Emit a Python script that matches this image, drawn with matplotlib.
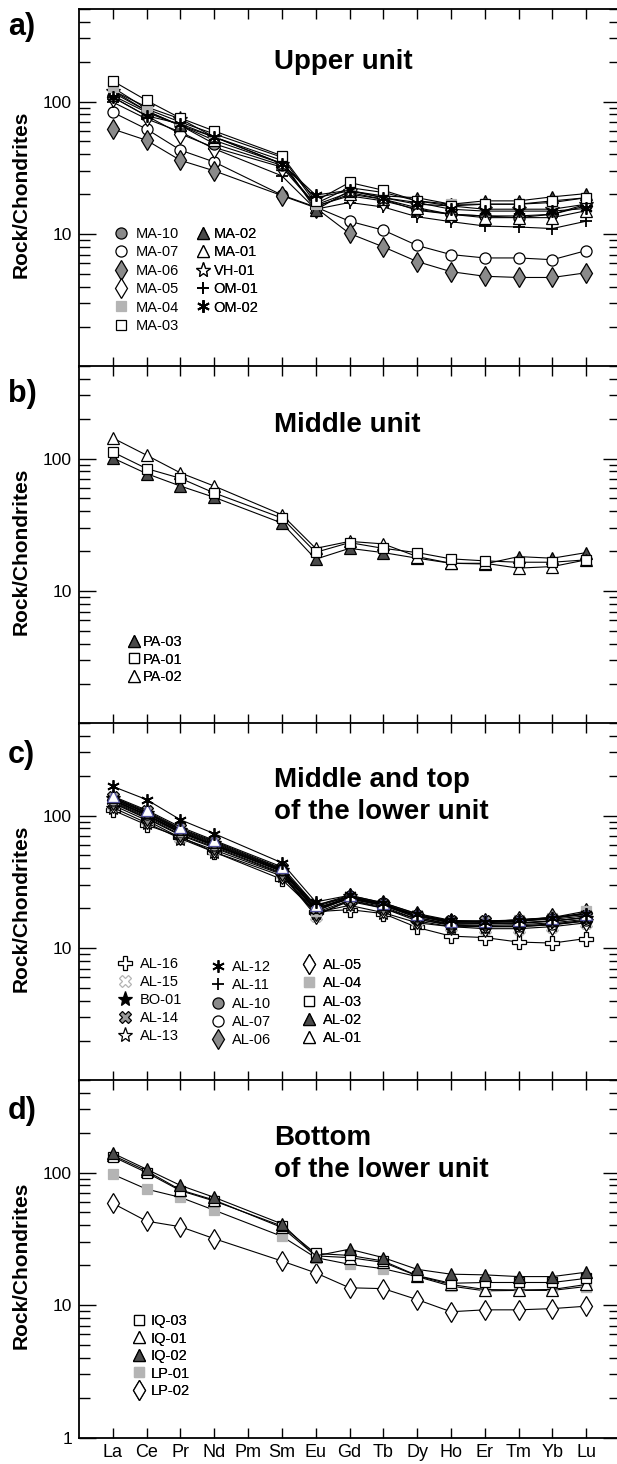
import numpy as np
import matplotlib
matplotlib.use("Agg")
import matplotlib.pyplot as plt
from matplotlib.lines import Line2D

plt.rcParams['font.family'] = ['Liberation Sans', 'DejaVu Sans']

# ---------------- data ----------------
elements = ['La', 'Ce', 'Pr', 'Nd', 'Pm', 'Sm', 'Eu', 'Gd', 'Tb', 'Dy', 'Ho', 'Er', 'Tm', 'Yb', 'Lu']

# panel a - Upper unit
ma10 = [111, 83, 66, 48, 33, 16.6, 20.6, 18.3, 15.1, 14.1, 13.7, 13.3, 14.1, 16.8]
ma07 = [83, 62, 43, 35, 19.7, 16.0, 12.5, 10.7, 8.2, 7.0, 6.6, 6.6, 6.4, 7.5]
ma06 = [62, 51, 36, 30, 19.5, 15.8, 10.1, 8.0, 6.2, 5.2, 4.8, 4.7, 4.7, 5.1]
ma05 = [108, 78, 57, 45, 32, 16.3, 19.4, 17.8, 15.4, 14.1, 13.7, 13.7, 14.1, 16.3]
ma04 = [128, 88, 70, 57, 38, 17.0, 22.4, 20.6, 17.8, 16.8, 16.8, 16.8, 17.3, 18.8]
ma03 = [143, 102, 75, 60, 39, 17.8, 24.5, 21.4, 17.8, 16.3, 16.8, 16.8, 17.8, 18.8]
ma02 = [121, 85, 66, 54, 36, 15.2, 21.2, 19.4, 18.8, 16.8, 17.8, 17.8, 19.1, 20.2]
ma01 = [117, 85, 66, 51, 34, 16.0, 20.0, 18.3, 15.8, 14.1, 13.3, 13.3, 13.3, 15.0]
vh01 = [121, 91, 74, 54, 34, 18.8, 21.2, 18.8, 16.8, 16.3, 15.4, 15.4, 15.4, 16.8]
om01 = [99, 74, 59, 44, 27.5, 15.4, 17.3, 16.0, 13.5, 12.4, 11.5, 11.3, 11.0, 12.5]
om02 = [108, 78, 68, 54, 34, 19.7, 21.4, 18.8, 17.3, 15.4, 14.9, 14.9, 14.9, 15.6]

# panel b - Middle unit
pa03 = [101, 77, 62, 51, 32.6, 17.4, 21.0, 19.5, 17.7, 16.2, 16.0, 18.2, 17.7, 19.5]
pa01 = [112, 84, 71, 55, 35.6, 19.6, 23.2, 21.0, 19.5, 17.5, 16.9, 16.5, 16.5, 17.2]
pa02 = [143, 106, 78, 62, 37.7, 21.0, 23.7, 22.7, 18.2, 16.2, 16.2, 14.9, 15.3, 17.2]

# panel c - Middle and top of the lower unit
al16 = [110, 85, 69, 53, 33, 18.8, 19.5, 18.2, 14.3, 12.3, 12.0, 11.1, 10.9, 11.8]
al15 = [120, 92, 68, 55, 36, 17.5, 23.0, 20.0, 16.0, 14.5, 14.0, 14.0, 14.5, 15.5]
bo01 = [135, 105, 78, 62, 39, 21.0, 24.5, 21.5, 17.5, 15.5, 15.5, 15.5, 16.0, 17.0]
al14 = [138, 108, 80, 64, 40, 20.0, 24.0, 21.5, 17.5, 16.0, 16.0, 16.0, 16.5, 17.5]
al13 = [115, 88, 67, 53, 35, 18.5, 21.0, 18.5, 15.5, 14.5, 14.5, 14.5, 15.0, 16.0]
al12 = [166, 132, 93, 73, 44, 22.3, 25.0, 21.9, 18.2, 16.2, 15.7, 16.4, 17.0, 18.2]
al11 = [128, 98, 74, 59, 38, 20.0, 23.5, 21.0, 17.0, 15.0, 14.8, 15.0, 15.5, 16.5]
al10 = [132, 102, 76, 60, 38.5, 19.5, 24.5, 21.5, 17.5, 15.5, 15.3, 15.5, 16.0, 17.0]
al07 = [126, 96, 72, 58, 37, 18.5, 23.0, 20.5, 16.5, 14.8, 14.5, 14.7, 15.2, 16.2]
al06 = [130, 100, 75, 60, 38, 19.0, 24.0, 21.0, 17.5, 15.5, 15.5, 16.0, 16.8, 18.5]
al05 = [124, 95, 71, 57, 36.5, 18.0, 22.5, 20.0, 16.5, 15.0, 14.5, 14.5, 15.0, 16.0]
al04 = [134, 104, 77, 61, 39, 19.0, 24.0, 21.0, 17.5, 15.8, 16.0, 16.2, 17.0, 19.0]
al03 = [131, 101, 75, 60, 38, 19.5, 23.5, 21.0, 17.0, 15.2, 15.2, 15.3, 16.0, 17.0]
al02 = [137, 106, 79, 63, 39.5, 20.5, 24.5, 21.5, 17.8, 16.0, 15.8, 16.0, 16.8, 18.0]
al01 = [140, 110, 82, 65, 41, 21.0, 25.0, 22.0, 18.0, 16.0, 16.0, 16.3, 17.0, 18.0]

# panel d - Bottom of the lower unit
iq03 = [132, 100, 73, 61, 39.5, 24.5, 23.7, 21.5, 16.7, 14.6, 14.8, 14.8, 14.8, 15.9]
iq01 = [135, 103, 74, 62, 38.5, 23.5, 22.8, 21.0, 16.6, 14.3, 13.1, 13.0, 13.1, 14.3]
iq02 = [140, 106, 80, 65, 41, 23.5, 26.4, 22.8, 18.6, 17.1, 16.9, 16.4, 16.4, 17.7]
lp01 = [97, 75, 65, 52, 33, 22.8, 20.3, 18.8, 16.4, 13.9, 12.8, 12.9, 12.9, 13.8]
lp02 = [58.6, 43, 39, 31.7, 21.5, 17.5, 13.5, 13.3, 11.0, 8.9, 9.2, 9.2, 9.4, 9.8]

panel_titles = ['Upper unit', 'Middle unit', 'Middle and top\nof the lower unit',
                'Bottom\nof the lower unit']
panel_letters = ['a)', 'b)', 'c)', 'd)']
ylabel = 'Rock/Chondrites'

# ---------------- styles ----------------
GREY = '#8a8a8a'
LGREY = '#b4b4b4'
DGREY = '#4a4a4a'
ASTER = (6, 2, 0)

def st(marker, fc, ec='black', ms=8, mew=0.9):
    return dict(marker=marker, mfc=fc, mec=ec, ms=ms, mew=mew)

styles = {
    'MA-10': st('o', GREY, ms=8), 'MA-07': st('o', 'white', ms=8),
    'MA-06': st('d', GREY, ms=10), 'MA-05': st('d', 'white', ms=10),
    'MA-04': st('s', LGREY, LGREY, ms=7), 'MA-03': st('s', 'white', ms=7),
    'MA-02': st('^', DGREY, ms=8), 'MA-01': st('^', 'white', ms=8),
    'VH-01': st('*', 'white', ms=11), 'OM-01': st('+', 'black', ms=9, mew=1.3),
    'OM-02': st(ASTER, 'black', ms=9, mew=1.3),
    'PA-03': st('^', DGREY, ms=8), 'PA-01': st('s', 'white', ms=7),
    'PA-02': st('^', 'white', ms=8),
    'AL-16': st('P', 'white', ms=10), 'AL-15': st('X', 'white', LGREY, ms=9),
    'BO-01': st('*', 'black', ms=11), 'AL-14': st('X', '#9a9a9a', ms=9),
    'AL-13': st('*', 'white', ms=11), 'AL-12': st(ASTER, 'black', ms=9, mew=1.3),
    'AL-11': st('+', 'black', ms=9, mew=1.3), 'AL-10': st('o', GREY, ms=8),
    'AL-07': st('o', 'white', ms=8), 'AL-06': st('d', GREY, ms=10),
    'AL-05': st('d', 'white', ms=10), 'AL-04': st('s', LGREY, LGREY, ms=7),
    'AL-03': st('s', 'white', ms=7), 'AL-02': st('^', DGREY, ms=8),
    'AL-01': st('^', 'white', '#50509a', ms=8),
    'IQ-03': st('s', 'white', ms=7), 'IQ-01': st('^', 'white', ms=8),
    'IQ-02': st('^', DGREY, ms=8), 'LP-01': st('s', LGREY, LGREY, ms=7),
    'LP-02': st('d', 'white', ms=10),
}

panels = [
    [('MA-07', ma07), ('MA-06', ma06), ('OM-01', om01), ('MA-05', ma05), ('MA-10', ma10),
     ('MA-01', ma01), ('MA-02', ma02), ('VH-01', vh01), ('MA-04', ma04), ('MA-03', ma03),
     ('OM-02', om02)],
    [('PA-03', pa03), ('PA-02', pa02), ('PA-01', pa01)],
    [('AL-16', al16), ('AL-15', al15), ('AL-13', al13), ('AL-05', al05), ('AL-07', al07),
     ('AL-11', al11), ('AL-03', al03), ('AL-06', al06), ('AL-10', al10), ('AL-04', al04),
     ('BO-01', bo01), ('AL-02', al02), ('AL-14', al14), ('AL-01', al01), ('AL-12', al12)],
    [('LP-02', lp02), ('LP-01', lp01), ('IQ-01', iq01), ('IQ-03', iq03), ('IQ-02', iq02)],
]

# legend columns: (names, x0 px, top px, handletextpad, labelspacing)
legend_cols = [
    [(['MA-10', 'MA-07', 'MA-06', 'MA-05', 'MA-04', 'MA-03'], 114, 227, 0.5, 0.3),
     (['MA-02', 'MA-01', 'VH-01', 'OM-01', 'OM-02'], 196, 227, 0.2, 0.3)],
    [(['PA-03', 'PA-01', 'PA-02'], 127, 635, 0.1, 0.24)],
    [(['AL-16', 'AL-15', 'BO-01', 'AL-14', 'AL-13'], 118, 957, 0.5, 0.28),
     (['AL-12', 'AL-11', 'AL-10', 'AL-07', 'AL-06'], 211, 960, 0.45, 0.3),
     (['AL-05', 'AL-04', 'AL-03', 'AL-02', 'AL-01'], 302, 958, 0.45, 0.3)],
    [(['IQ-03', 'IQ-01', 'IQ-02', 'LP-01', 'LP-02'], 132, 1314, 0.3, 0.24)],
]

# ---------------- figure ----------------
W, H = 617, 1464
fig = plt.figure(figsize=(W / 100, H / 100), dpi=100)

def fx(px):
    return px / W

def fy(py):
    return 1 - py / H

x_all = np.arange(1, len(elements) + 1)
x_meas = np.array([i + 1 for i, e in enumerate(elements) if e != 'Pm'])

panel_tops = [9, 366, 723, 1080]
panel_h = 357.5
ax_left, ax_right = 79, 620
title_y = [62, 425, 796, 1154]
letter_y = [27, 394, 755, 1111]

for k in range(4):
    top = panel_tops[k]
    ax = fig.add_axes([fx(ax_left), fy(top + panel_h), fx(ax_right - ax_left), panel_h / H])
    ax.set_yscale('log')
    ax.set_ylim(1, 500)
    ax.set_xlim(0, len(elements) + 1)
    for name, vals in panels[k]:
        s = styles[name]
        ax.plot(x_meas, vals, color='black', lw=0.8, marker=s['marker'], mfc=s['mfc'],
                mec=s['mec'], ms=s['ms'], mew=s['mew'], zorder=3, clip_on=False)
    for sp in ax.spines.values():
        sp.set_linewidth(1.3)
    ax.set_xticks(x_all)
    if k == 3:
        ax.set_xticklabels(elements, fontsize=13)
        ax.set_yticks([1, 10, 100])
        ax.set_yticklabels(['1', '10', '100'])
    else:
        ax.set_xticklabels([])
        ax.set_yticks([10, 100])
        ax.set_yticklabels(['10', '100'])
    ax.yaxis.set_minor_locator(matplotlib.ticker.LogLocator(base=10, subs=np.arange(2, 10)))
    ax.yaxis.set_minor_formatter(matplotlib.ticker.NullFormatter())
    ax.tick_params(axis='x', which='major', direction='in', top=True, bottom=True,
                   length=7.2, width=1.0, pad=5)
    ax.tick_params(axis='y', which='major', direction='in', left=True, right=True,
                   length=12, width=1.0, labelsize=12.5, pad=5)
    ax.tick_params(axis='y', which='minor', direction='in', left=True, right=True,
                   length=8, width=1.0)

    fig.text(fx(274), fy(title_y[k]), panel_titles[k], fontsize=20, fontweight='bold',
             ha='left', va='center', linespacing=1.32)
    fig.text(fx(8), fy(letter_y[k]), panel_letters[k], fontsize=22, fontweight='bold',
             ha='left', va='center')
    fig.text(fx(21), fy(top + panel_h / 2 + 7), ylabel, fontsize=15, fontweight='bold',
             rotation=90, ha='center', va='center')

    for names, x0, ytop, htp, lsp in legend_cols[k]:
        handles = []
        for n in names:
            s = styles[n]
            handles.append(Line2D([], [], linestyle='none', marker=s['marker'], mfc=s['mfc'],
                                  mec=('black' if n == 'AL-01' else s['mec']),
                                  ms=s['ms'], mew=s['mew']))
        leg = ax.legend(handles, names, loc='upper left', bbox_to_anchor=(fx(x0), fy(ytop)),
                        bbox_transform=fig.transFigure, frameon=False, fontsize=10.5,
                        borderpad=0, borderaxespad=0, handlelength=1.0,
                        handletextpad=htp, labelspacing=lsp, numpoints=1)
        ax.add_artist(leg)

fig.savefig('out.png', dpi=100)
